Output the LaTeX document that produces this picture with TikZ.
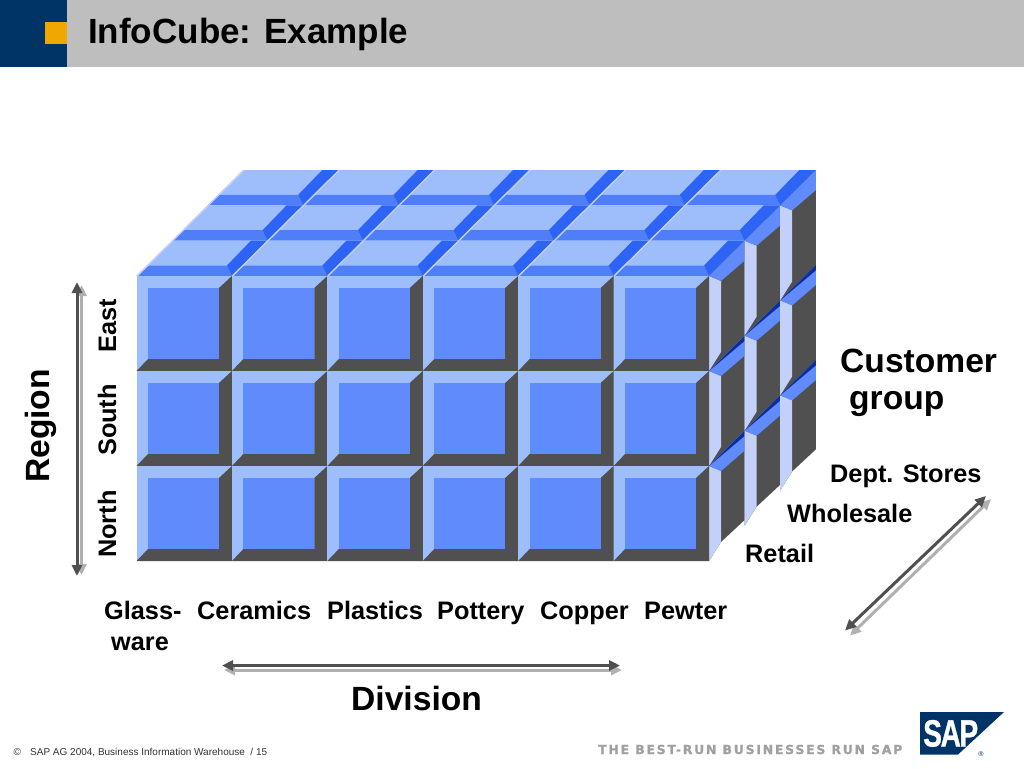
\documentclass[tikz,border=0pt]{standalone}
\usepackage{fontspec}
\setmainfont{Liberation Sans}
\newfontfamily\tagfont[LetterSpace=14.5,FakeBold=1.2]{DejaVu Sans}
\newfontfamily\logofont[LetterSpace=-5,FakeBold=1]{Liberation Sans}
\usetikzlibrary{arrows.meta}
\definecolor{navy}{HTML}{003366}
\definecolor{headgray}{HTML}{BEBEBE}
\definecolor{orangesq}{HTML}{F0A800}
\definecolor{lightb}{HTML}{9DBEFB}
\definecolor{paleb}{HTML}{C3D0FA}
\definecolor{midb}{HTML}{5F8BFD}
\definecolor{bandb}{HTML}{4F7FF8}
\definecolor{brightb}{HTML}{2E64F5}
\definecolor{darkg}{HTML}{505050}
\definecolor{sliver}{HTML}{0B2E9E}
\definecolor{arrowlight}{HTML}{B0B0B0}
\definecolor{taggray}{HTML}{A0A0A0}
\tikzset{
  big/.style={font=\bfseries\fontsize{33.6}{36}\selectfont,inner sep=0pt},
  mid/.style={font=\bfseries\fontsize{25.3}{28}\selectfont,inner sep=0pt},
  arrowdark/.style={draw=darkg,line width=3pt,{Triangle[length=11pt,width=10pt]}-{Triangle[length=11pt,width=10pt]}},
  arrowpale/.style={draw=arrowlight,line width=3pt,{Triangle[length=11pt,width=10pt]}-{Triangle[length=11pt,width=10pt]}},
}
\begin{document}
\begin{tikzpicture}[x=1pt,y=-1pt]
\useasboundingbox (0,0) rectangle (1024,768);
\fill[white] (0,0) rectangle (1024,768);
% header
\fill[headgray] (67,0) rectangle (1024,67);
\fill[navy] (0,0) rectangle (67,67);
\fill[orangesq] (45,22) rectangle (67,44);
\node[anchor=base west,inner sep=0pt,font=\bfseries\fontsize{35}{38}\selectfont] (title) at (88,44) {InfoCube: Example};
% top faces
\def\W{95.42}\def\H{95}
\foreach \j in {2,1,0}{
  \foreach \i in {0,...,5}{
    \pgfmathsetmacro{\ox}{136.5+\W*\i+35.6*\j}
    \pgfmathsetmacro{\oy}{276-35.3*\j}
    \fill[lightb] (\ox,\oy) -- (\ox+\W,\oy) -- (\ox+\W+35.6,\oy-35.3) -- (\ox+35.6,\oy-35.3) -- cycle;
    \fill[bandb] (\ox,\oy) -- (\ox+\W,\oy) -- (\ox+\W-5,\oy-10.5) -- (\ox+10.5,\oy-10.5) -- cycle;
    \fill[brightb] (\ox+\W,\oy) -- (\ox+\W-5,\oy-10.5) -- (\ox+\W+19,\oy-35.3) -- (\ox+\W+35.6,\oy-35.3) -- cycle;
    \draw[paleb,line width=1.4pt] (\ox+.5,\oy) -- (\ox+35.6+.5,\oy-35.3);
  }
}
% right faces
\foreach \k in {0,1,2}{
  \foreach \r in {0,1,2}{
    \pgfmathsetmacro{\xl}{709+35.6*\k}
    \pgfmathsetmacro{\yt}{276+95*\r-35.3*\k}
    \pgfmathsetmacro{\yb}{\yt+95}
    \ifnum\r=2
      \fill[darkg] (\xl,\yt) -- (\xl+35.6,\yt-35.3) -- (\xl+35.6,\yb-41) -- (\xl+12,\yb-19) -- (\xl,\yb) -- cycle;
    \else
      \fill[darkg] (\xl,\yt) -- (\xl+35.6,\yt-35.3) -- (\xl+35.6,\yb-35.3) -- (\xl,\yb) -- cycle;
    \fi
    \fill[paleb] (\xl,\yt) -- (\xl+12,\yt+5) -- (\xl+12,\yb-19) -- (\xl,\yb) -- cycle;
    \fill[midb] (\xl,\yt) -- (\xl+35.6,\yt-35.3) -- (\xl+35.6,\yt-15.3) -- (\xl+12,\yt+5) -- cycle;
    \ifnum\r>0
      \fill[sliver] (\xl,\yt) -- (\xl+35.6,\yt-35.3) -- (\xl+35.6,\yt-30) -- cycle;
    \fi
  }
}
% front cells
\foreach \r in {0,1,2}{
  \foreach \i in {0,...,5}{
    \pgfmathsetmacro{\xa}{136.5+\W*\i}
    \pgfmathsetmacro{\xb}{\xa+\W}
    \pgfmathsetmacro{\ya}{276+95*\r}
    \pgfmathsetmacro{\yb}{\ya+\H}
    \fill[lightb] (\xa,\ya) rectangle (\xb,\yb);
    \fill[darkg] (\xb,\ya) -- (\xb,\yb) -- (\xa,\yb) -- (\xa+11.5,\yb-12) -- (\xb-13,\yb-12) -- (\xb-13,\ya+12) -- cycle;
    \fill[midb] (\xa+11.5,\ya+12) rectangle (\xb-13,\yb-12);
  }
}
% axis labels
\node[big,rotate=90,anchor=base] (region) at (49,426) {Region};
\node[mid,rotate=90,anchor=base] (east) at (116,326) {East};
\node[mid,rotate=90,anchor=base] (south) at (116,420) {South};
\node[mid,rotate=90,anchor=base] (north) at (116,524) {North};
\node[mid,anchor=base west] (glass) at (104,619) {Glass-};
\node[mid,anchor=base west] (ware) at (111,650) {ware};
\node[mid,anchor=base west] (ceramics) at (197,619) {Ceramics};
\node[mid,anchor=base west] (plastics) at (327,619) {Plastics};
\node[mid,anchor=base west] (pottery) at (437,619) {Pottery};
\node[mid,anchor=base west] (copper) at (540,619) {Copper};
\node[mid,anchor=base west] (pewter) at (644,619) {Pewter};
\node[big,anchor=base west] (division) at (351,710) {Division};
\node[big,anchor=base west] (customer) at (840,372) {Customer};
\node[big,anchor=base west] (group) at (849,409) {group};
\node[mid,anchor=base west] (dept) at (830,482) {Dept. Stores};
\node[mid,anchor=base west] (wholesale) at (787,522) {Wholesale};
\node[mid,anchor=base west] (retail) at (745,562) {Retail};
% double arrows
\coordinate (v1a) at (81.5,285); \coordinate (v1b) at (81.5,575);
\coordinate (v2a) at (77,282); \coordinate (v2b) at (77,576);
\coordinate (h1a) at (224,670); \coordinate (h1b) at (622,670);
\coordinate (h2a) at (222,665.5); \coordinate (h2b) at (620,665.5);
\coordinate (d1a) at (850,635.5); \coordinate (d1b) at (991,499);
\coordinate (d2a) at (845,630.5); \coordinate (d2b) at (986,496);
\draw[arrowpale] (v1a) -- (v1b);
\draw[arrowdark] (v2a) -- (v2b);
\draw[arrowpale] (h1a) -- (h1b);
\draw[arrowdark] (h2a) -- (h2b);
\draw[arrowpale] (d1a) -- (d1b);
\draw[arrowdark] (d2a) -- (d2b);
% footer
\node[anchor=base west,inner sep=0pt,font=\fontsize{10}{12}\selectfont,text=black!80] (copy) at (13.5,755.5) {©};
\node[anchor=base west,inner sep=0pt,font=\fontsize{10}{12}\selectfont,text=black!80] (foot) at (30,755.5) {SAP AG 2004, Business Information Warehouse~~/ 15};
\node[anchor=base west,inner sep=0pt,font=\tagfont\bfseries\fontsize{12.4}{14}\selectfont,text=taggray] (tag) at (598,754) {THE BEST-RUN BUSINESSES RUN SAP};
% logo
\fill[navy] (920,712) -- (1004,712) -- (958,754.5) -- (920,754.5) -- cycle;
\node[anchor=base west,inner sep=0pt,text=white,font=\logofont\bfseries\fontsize{38}{40}\selectfont] (sap) at (923,746.5) {\scalebox{.74}[1]{SAP}};
\node[anchor=center,inner sep=0pt,text=navy,font=\fontsize{7}{8}\selectfont] (reg) at (981,754) {®};
\end{tikzpicture}
\end{document}
